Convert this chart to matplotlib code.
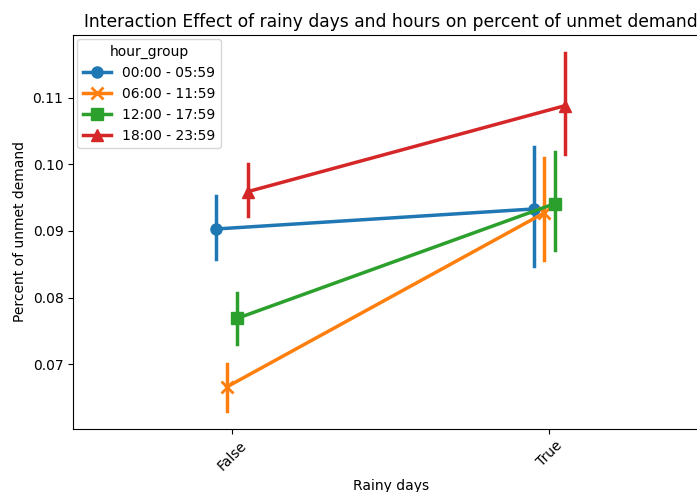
import matplotlib
matplotlib.use("Agg")
import matplotlib.pyplot as plt

categories = ["False", "True"]
hour_groups = ["00:00 - 05:59", "06:00 - 11:59", "12:00 - 17:59", "18:00 - 23:59"]

# mean and confidence interval (low, high) per hour group, for False / True
means = [
    [0.0903, 0.0933],
    [0.0666, 0.0927],
    [0.0769, 0.0941],
    [0.0959, 0.1088],
]
ci_low = [
    [0.0858, 0.0847],
    [0.0630, 0.0856],
    [0.0731, 0.0872],
    [0.0922, 0.1015],
]
ci_high = [
    [0.0952, 0.1026],
    [0.0701, 0.1009],
    [0.0807, 0.1018],
    [0.1001, 0.1167],
]

colors = ["#1f77b4", "#ff7f0e", "#2ca02c", "#d62728"]
markers = ["o", "x", "s", "^"]
offsets = [-0.05, -0.0167, 0.0167, 0.05]

fig = plt.figure(figsize=(6.97, 4.92), dpi=100)
ax = fig.add_axes([0.105, 0.128, 0.911, 0.801])

for i, name in enumerate(hour_groups):
    xs = [j + offsets[i] for j in range(len(categories))]
    for j in range(len(categories)):
        ax.plot([xs[j], xs[j]], [ci_low[i][j], ci_high[i][j]], color=colors[i], linewidth=2.5, zorder=2)
    ax.plot(xs, means[i], color=colors[i], marker=markers[i], markersize=8,
            markeredgewidth=2 if markers[i] == "x" else 1, linewidth=2.5, label=name, zorder=3)

ax.set_xticks(range(len(categories)))
ax.set_xticklabels(categories, rotation=45)
ax.set_xlim(-0.5, len(categories) - 0.5)
ax.set_ylim(0.0603, 0.1194)
ax.set_yticks([0.07, 0.08, 0.09, 0.10, 0.11])
ax.spines["right"].set_visible(False)
ax.set_xlabel("Rainy days")
ax.set_ylabel("Percent of unmet demand")
ax.set_title("Interaction Effect of rainy days and hours on percent of unmet demand", fontsize=12.3)
ax.legend(title="hour_group", loc="upper left", borderaxespad=0.3)

fig.savefig("out.png", dpi=100)
